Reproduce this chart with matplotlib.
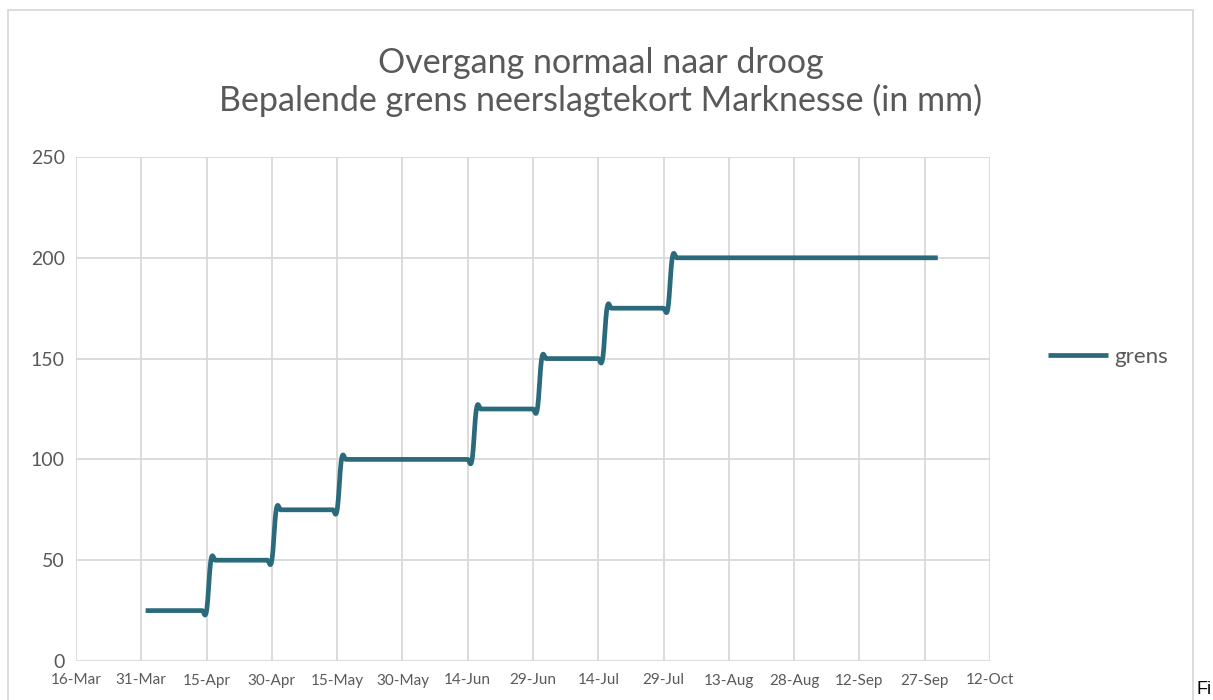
import matplotlib.pyplot as plt
import matplotlib.dates as mdates
from matplotlib.patches import Rectangle
import numpy as np
import datetime as dt

# step function: date where each level begins, and the level (mm)
step_start = ["2019-04-01", "2019-04-16", "2019-05-01", "2019-05-16",
              "2019-06-16", "2019-07-01", "2019-07-16", "2019-07-31"]
step_level = [25, 50, 75, 100, 125, 150, 175, 200]
series_end = "2019-09-30"
series_name = "grens"

tick_first = "2019-03-16"
tick_last = "2019-10-12"
y_ticks = [0, 50, 100, 150, 200, 250]

title = "Overgang normaal naar droog\nBepalende grens neerslagtekort Marknesse (in mm)"

# daily values, as in the spreadsheet
start = np.array([np.datetime64(s) for s in step_start])
days = np.arange(start[0], np.datetime64(series_end) + 1, np.timedelta64(1, "D"))
idx = np.searchsorted(start, days, side="right") - 1
vals = np.array(step_level, dtype=float)[idx]
xnum = mdates.date2num(days.astype("datetime64[s]").astype(dt.datetime))


def smooth(x, y, k=0.2, n=12):
    # bezier through the points, like Excel's "smoothed line"
    px = np.concatenate([[x[0]], x, [x[-1]]])
    py = np.concatenate([[y[0]], y, [y[-1]]])
    t = np.linspace(0, 1, n, endpoint=False)
    b0, b1, b2, b3 = (1 - t) ** 3, 3 * (1 - t) ** 2 * t, 3 * (1 - t) * t ** 2, t ** 3
    ox, oy = [], []
    for i in range(1, len(px) - 2):
        for p, out in ((px, ox), (py, oy)):
            p0, p1, p2, p3 = p[i - 1], p[i], p[i + 1], p[i + 2]
            c1 = p1 + k * (p2 - p0)
            c2 = p2 - k * (p3 - p1)
            out.extend(b0 * p1 + b1 * c1 + b2 * c2 + b3 * p2)
    ox.append(x[-1])
    oy.append(y[-1])
    return np.array(ox), np.array(oy)


sx, sy = smooth(xnum, vals)

plt.rcParams['font.family'] = ['Lato', 'DejaVu Sans']
grey = "#595959"
fig = plt.figure(figsize=(12.13, 7), dpi=100)
ax = fig.add_axes([76 / 1213, 39 / 700, 914 / 1213, 504 / 700])

ax.plot(sx, sy, color="#2B6A7B", lw=3.4, solid_capstyle="butt", label=series_name)

t0 = mdates.date2num(dt.datetime.fromisoformat(tick_first))
t1 = mdates.date2num(dt.datetime.fromisoformat(tick_last))
ax.set_xlim(t0, t1)
ax.set_ylim(0, 250)
ax.set_xticks(np.arange(t0, t1 + 1, 15))
ax.xaxis.set_major_formatter(mdates.DateFormatter("%d-%b"))
ax.set_yticks(y_ticks)
ax.grid(True, color="#d9d9d9", lw=1.3)
ax.set_axisbelow(True)
for s in ax.spines.values():
    s.set_visible(False)
ax.tick_params(length=0, colors=grey)
ax.tick_params(axis="x", labelsize=11, pad=9)
ax.tick_params(axis="y", labelsize=14, pad=8)

fig.text(0.495, 1 - 82 / 700, title, ha="center", va="center", fontsize=24.5,
         color=grey, linespacing=1.2)

ax.legend(loc="center left", bbox_to_anchor=(1048 / 1213, 1 - 357 / 700),
          bbox_transform=fig.transFigure, frameon=False, fontsize=16,
          labelcolor=grey, handlelength=2.7, handletextpad=0.3,
          borderpad=0, borderaxespad=0)

fig.patches.append(Rectangle((8 / 1213, -0.05), 1185 / 1213, 1.05 - 10 / 700,
                             transform=fig.transFigure, fill=False,
                             ec="#d9d9d9", lw=1.3))
fig.text(1196 / 1213, 1 - 690 / 700, "Fi", fontsize=13,
         family="Liberation Sans", va="center")

fig.savefig("out.png", dpi=100)
